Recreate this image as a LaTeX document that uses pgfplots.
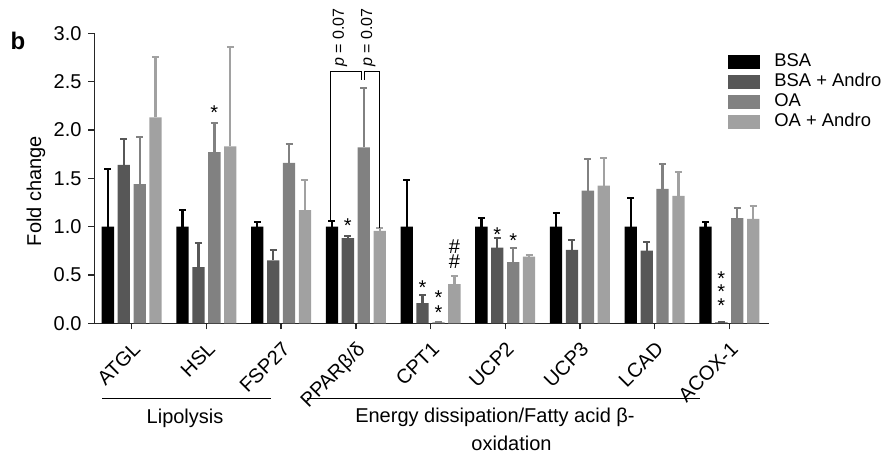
\documentclass[border=0pt]{standalone}
\usepackage{pgfplots}
\pgfplotsset{compat=1.18}
\usepackage{pgfplotstable}
\usepackage{fontspec}
\setmainfont{Liberation Sans}

\definecolor{cBSA}{HTML}{000000}
\definecolor{cBA}{HTML}{575757}
\definecolor{cOA}{HTML}{818181}
\definecolor{cOAA}{HTML}{A1A1A1}

% x: 0 ATGL, 1 HSL, 2 FSP27, 3 PPARb/d, 4 CPT1, 5 UCP2, 6 UCP3, 7 LCAD, 8 ACOX-1
\pgfplotstableread{
x y e
0 1.00 0.60
1 1.00 0.17
2 1.00 0.05
3 1.00 0.06
4 1.00 0.48
5 1.00 0.09
6 1.00 0.14
7 1.00 0.30
8 1.00 0.05
}\bsa
\pgfplotstableread{
x y e
0 1.64 0.27
1 0.58 0.25
2 0.65 0.11
3 0.88 0.025
4 0.21 0.085
5 0.784 0.10
6 0.76 0.10
7 0.753 0.09
8 0.01 0.0
}\bsaandro
\pgfplotstableread{
x y e
0 1.44 0.49
1 1.77 0.30
2 1.66 0.20
3 1.82 0.61
4 0.01 0.0
5 0.633 0.15
6 1.373 0.33
7 1.39 0.26
8 1.088 0.10
}\oa
\pgfplotstableread{
x y e
0 2.13 0.62
1 1.83 1.03
2 1.17 0.31
3 0.956 0.025
4 0.405 0.085
5 0.69 0.018
6 1.425 0.28
7 1.318 0.25
8 1.08 0.135
}\oaandro

\pgfplotsset{
  mybar/.style={fill=#1, draw=none,
    legend image code/.code={\fill[fill=#1] (0pt,-3.5pt) rectangle (16pt,3.5pt);},
    error bars/.cd, y dir=plus, y explicit,
    error bar style={draw=#1, line width=1.15pt},
    error mark options={rotate=90, draw=#1, mark size=1.75pt, line width=1pt}},
}
\tikzset{sigmark/.style={anchor=north, yshift=1.4pt, inner sep=0pt, font=\fontsize{10}{12}\selectfont}}

\begin{document}
\begin{tikzpicture}
\useasboundingbox (-47.25pt,-66.35pt) rectangle (394.25pt,161.65pt);
\begin{axis}[
  scale only axis, width=337.4pt, height=145pt,
  ybar=1.8pt, bar width=6.15pt,
  xmin=-0.498, xmax=8.535, ymin=0, ymax=3,
  axis x line*=bottom, axis y line*=left,
  axis line style={line width=0.7pt, black!85},
  xtick={0,...,8},
  xticklabels={ATGL, HSL, FSP27, PPARβ/δ, CPT1, UCP2, UCP3, LCAD, ACOX-1},
  ytick={0,0.5,...,3},
  tick align=outside, major tick length=3pt,
  tick style={line width=0.7pt, black!85},
  yticklabel style={/pgf/number format/.cd, fixed, fixed zerofill, precision=1},
  /pgf/number format/assume math mode=true,
  tick label style={font=\fontsize{10}{12}\selectfont},
  xticklabel style={yshift=-4pt, rotate=45, anchor=north east, inner sep=1pt},
  ylabel={Fold change},
  ylabel style={at={(axis description cs:-0.0867,0.456)}, anchor=center, font=\fontsize{10}{12}\selectfont},
  clip=false,
  legend style={at={(axis description cs:0.9388,0.9366)}, anchor=north west,
    draw=none, fill=none, inner sep=0pt, row sep=0.5pt,
    font=\fontsize{9.2}{10}\selectfont,
    nodes={inner ysep=0.5pt, inner xsep=1pt, text height=6.8pt, text depth=1.7pt},
    /tikz/every odd column/.append style={column sep=6pt}},
  legend cell align=left,
]
\addplot[mybar=cBSA] table[x=x, y=y, y error=e] {\bsa};
\addplot[mybar=cBA] table[x=x, y=y, y error=e] {\bsaandro};
\addplot[mybar=cOA] table[x=x, y=y, y error=e] {\oa};
\addplot[mybar=cOAA] table[x=x, y=y, y error=e] {\oaandro};
\legend{BSA, BSA + Andro, OA, OA + Andro}

% significance marks
\node[sigmark] at (axis cs:1.1065,2.225) {*};
\node[sigmark] at (axis cs:2.8935,1.053) {*};
\node[sigmark] at (axis cs:3.8935,0.42) {*};
\node[sigmark] at (axis cs:4.1065,0.312) {*};
\node[sigmark] at (axis cs:4.1065,0.157) {*};
\node[inner sep=0pt, font=\fontsize{10}{12}\selectfont] at (axis cs:4.319,0.788) {\#};
\node[inner sep=0pt, font=\fontsize{10}{12}\selectfont] at (axis cs:4.319,0.633) {\#};
\node[sigmark] at (axis cs:4.8935,0.967) {*};
\node[sigmark] at (axis cs:5.1065,0.898) {*};
\node[sigmark] at (axis cs:7.8935,0.512) {*};
\node[sigmark] at (axis cs:7.8935,0.374) {*};
\node[sigmark] at (axis cs:7.8935,0.225) {*};

% p-value brackets
\draw[line width=0.5pt] (axis cs:2.664,1.07) -- (axis cs:2.664,2.604) -- (axis cs:3.070,2.604) -- (axis cs:3.070,2.518);
\draw[line width=0.5pt] (axis cs:3.114,2.518) -- (axis cs:3.114,2.604) -- (axis cs:3.315,2.604) -- (axis cs:3.315,0.99);
\node[rotate=90, anchor=west, inner sep=0.5pt, font=\fontsize{8}{9}\selectfont] at (axis cs:2.789,2.642) {\textit{p} = 0.07};
\node[rotate=90, anchor=west, inner sep=0.5pt, font=\fontsize{8}{9}\selectfont] at (axis cs:3.167,2.642) {\textit{p} = 0.07};

% group labels
\draw[line width=0.5pt] (axis cs:-0.394,-0.776) -- (axis cs:1.861,-0.776);
\draw[line width=0.5pt] (axis cs:2.347,-0.776) -- (axis cs:7.608,-0.776);
\node[font=\fontsize{10}{12}\selectfont] at (axis cs:0.714,-0.98) {Lipolysis};
\node[font=\fontsize{10}{12}\selectfont] at (axis cs:4.863,-0.969) {Energy dissipation/Fatty acid β-};
\node[font=\fontsize{10}{12}\selectfont] at (axis cs:5.084,-1.238) {oxidation};

\node[font=\bfseries\fontsize{12}{14}\selectfont] at (axis description cs:-0.1134,0.973) {b};
\end{axis}
\end{tikzpicture}
\end{document}
